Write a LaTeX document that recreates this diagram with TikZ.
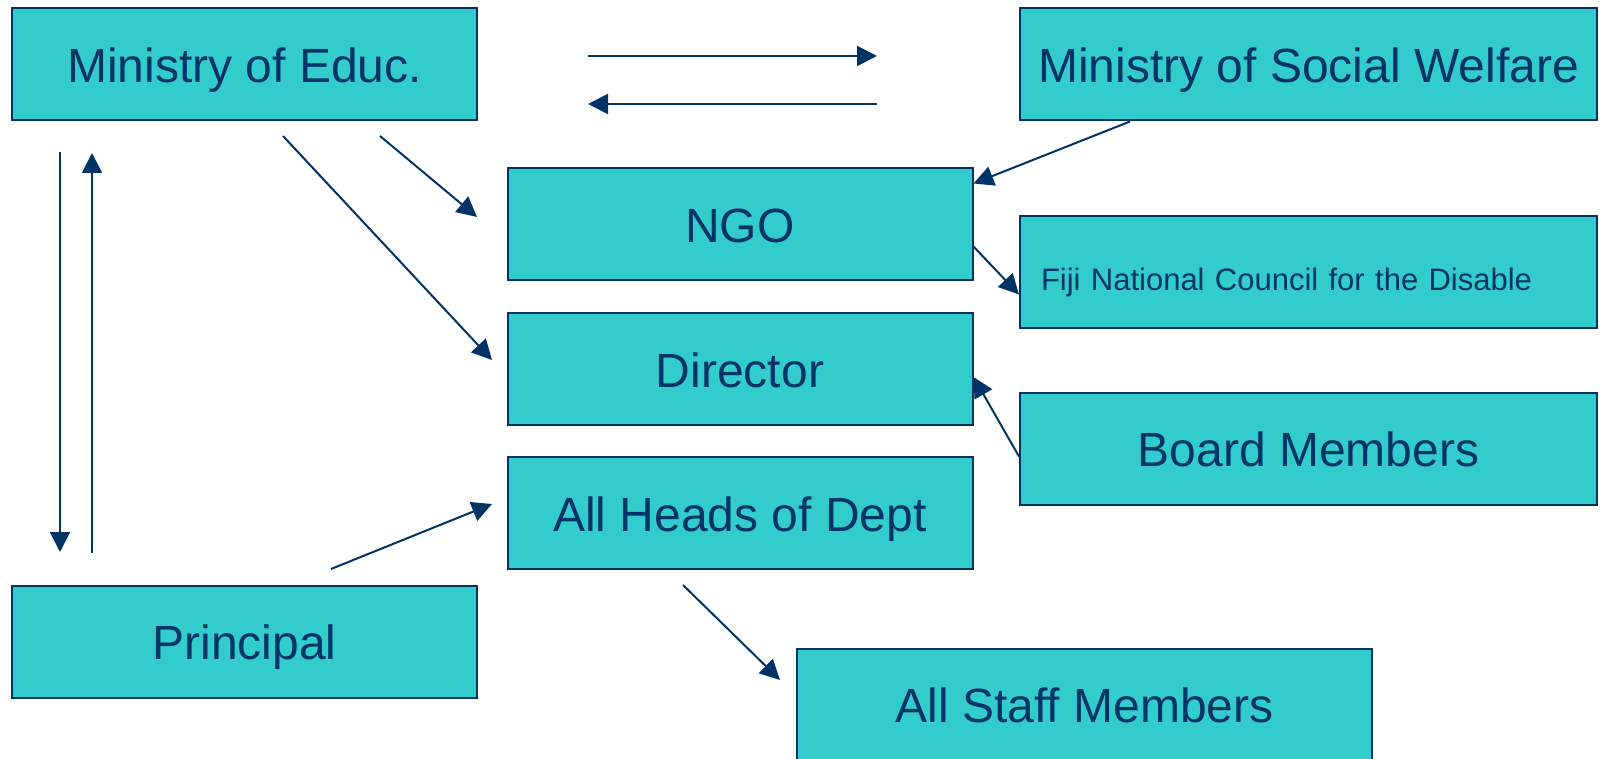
\documentclass[tikz,border=0pt]{standalone}
\usepackage{fontspec}
\setmainfont{Liberation Sans}
\usetikzlibrary{arrows.meta}
\definecolor{navy}{HTML}{003366}
\definecolor{turq}{HTML}{33CCCC}
\tikzset{
  orgbox/.style={draw=navy, fill=turq, line width=2pt, text=navy, inner sep=0pt,
    minimum width=465pt, minimum height=112pt, text height=46pt, text depth=10pt,
    font=\fontsize{48}{58}\selectfont},
  widebox/.style={orgbox, minimum width=577pt},
  link/.style={navy, line width=2pt, -{Triangle[length=20pt,width=20pt]}}
}
\begin{document}
\begin{tikzpicture}[x=1pt,y=-1pt]
        \useasboundingbox (0,0) rectangle (1604,759);
        \node[orgbox] (educ) at (244.5,64.5) {Ministry of Educ.};
        \node[widebox] (welfare) at (1308.5,64.5) {Ministry of Social Welfare};
        \node[orgbox] (ngo) at (740,224.5) {NGO};
        \node[widebox, font=\fontsize{31}{38}\selectfont, align=left, text width=535pt, inner xsep=21pt] (fiji) at (1308.5,272.5) {Fiji National Council for the Disable};
        \node[orgbox] (director) at (740,369) {Director};
        \node[widebox] (board) at (1308.5,448.5) {Board Members};
        \node[orgbox] (heads) at (740,513) {All Heads of Dept};
        \node[orgbox] (principal) at (244.5,641.5) {Principal};
        \node[widebox, minimum width=575pt] (staff) at (1084.5,704.5) {All Staff Members};
        \coordinate (to1) at (588,56);
        \coordinate (to2) at (877,56);
        \coordinate (fro1) at (877,104);
        \coordinate (fro2) at (588,104);
        \coordinate (down1) at (60,152);
        \coordinate (down2) at (60,552);
        \coordinate (up1) at (92,553);
        \coordinate (up2) at (92,153);
        \coordinate (educ-a) at (380,136);
        \coordinate (ngo-a) at (477,217);
        \coordinate (educ-b) at (283,136);
        \coordinate (dir-b) at (492,360);
        \coordinate (prin-a) at (331,569);
        \coordinate (heads-a) at (492,504);
        \coordinate (heads-b) at (683,585);
        \coordinate (staff-b) at (780,680);
        \draw[link] (to1) -- (to2);
        \draw[link] (fro1) -- (fro2);
        \draw[link] (down1) -- (down2);
        \draw[link] (up1) -- (up2);
        \draw[link] (educ-a) -- (ngo-a);
        \draw[link] (educ-b) -- (dir-b);
        \draw[link] ([xshift=111pt]welfare.south west) -- ([yshift=-16pt]ngo.north east);
        \draw[link] ([yshift=-79pt]ngo.north east) -- ([yshift=-79pt]fiji.north west);
        \draw[link] ([yshift=-8pt]board.west) -- ([yshift=-8pt]director.east);
        \draw[link] (prin-a) -- (heads-a);
        \draw[link] (heads-b) -- (staff-b);
\end{tikzpicture}
\end{document}
